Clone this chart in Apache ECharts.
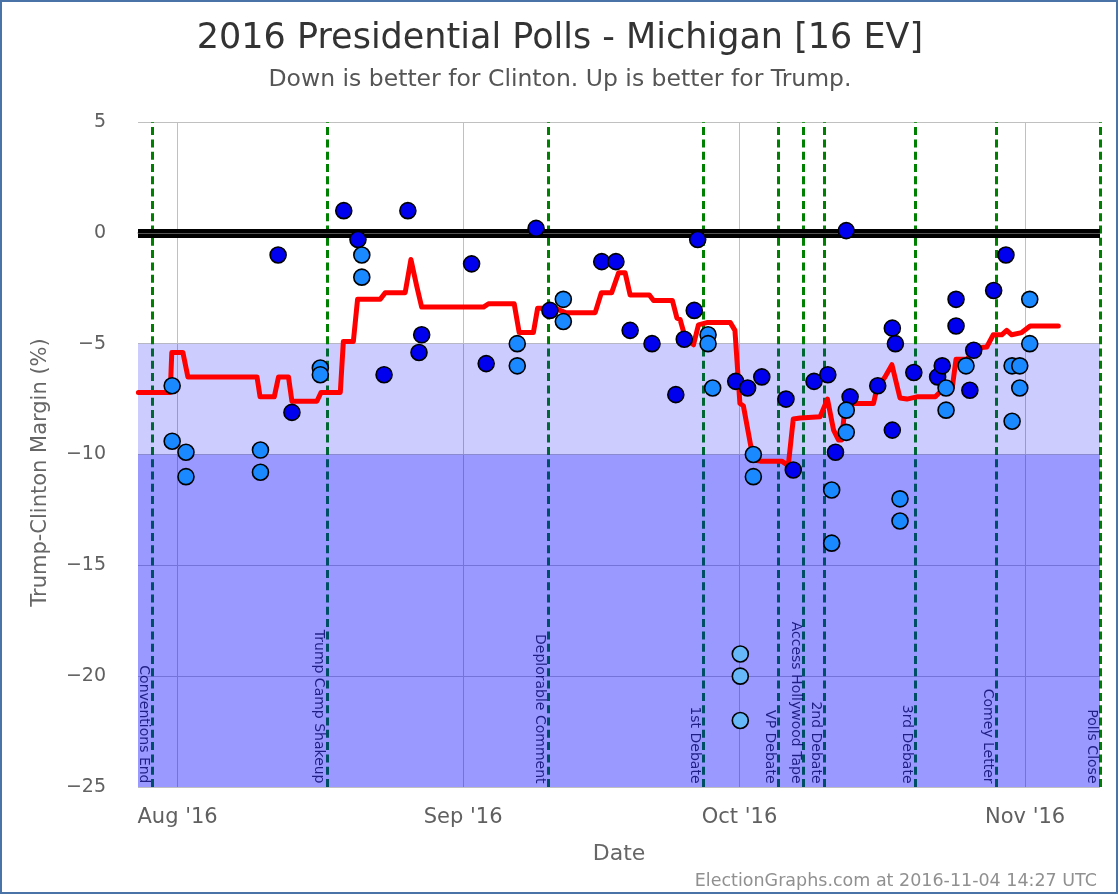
<!DOCTYPE html>
<html>
<head>
<meta charset="utf-8">
<script src="https://cdn.jsdelivr.net/npm/echarts@6/dist/echarts.min.js"></script>
<style>
  html, body { margin: 0; padding: 0; background: #fff; }
  #chart { position: absolute; left: 0; top: 0; width: 1120px; height: 896px; }
  #frame { position: absolute; left: 0; top: 0; width: 1114px; height: 890px; border: 2px solid #4a74a8; pointer-events: none; }
</style>
</head>
<body>
<div id="chart"></div>
<div id="frame"></div>
<script>
// ---------------- data ----------------
const titleText = '2016 Presidential Polls - Michigan [16 EV]';
const subtitleText = 'Down is better for Clinton. Up is better for Trump.';
const yAxisTitle = 'Trump-Clinton Margin (%)';
const xAxisTitle = 'Date';
const footerText = 'ElectionGraphs.com at 2016-11-04 14:27 UTC';

const xMin = '2016-07-27 17:00';
const xMax = '2016-11-09 03:00';
const yTicks = [-25, -20, -15, -10, -5, 0, 5];
const monthTickDates = ['2016-08-01 00:00', '2016-09-01 00:00', '2016-10-01 00:00', '2016-11-01 00:00'];
const monthTickLabels = ["Aug '16", "Sep '16", "Oct '16", "Nov '16"];

const eventNames = ['Conventions End', 'Trump Camp Shakeup', 'Deplorable Comment', '1st Debate', 'VP Debate',
  'Access Hollywood Tape', '2nd Debate', '3rd Debate', 'Comey Letter', 'Polls Close'];
const eventDates = ['2016-07-29 06:00', '2016-08-17 07:00', '2016-09-10 05:00', '2016-09-27 02:00', '2016-10-05 04:00',
  '2016-10-07 23:00', '2016-10-10 04:00', '2016-10-20 02:00', '2016-10-28 20:00', '2016-11-09 03:00'];

// polls (dark = single poll style 1, medium = style 2, light = style 3)
const darkDates = ['2016-08-11 22:00', '2016-08-13 10:00', '2016-08-19 01:00', '2016-08-20 14:00', '2016-08-23 10:00',
  '2016-08-26 00:00', '2016-08-27 12:00', '2016-08-27 05:00', '2016-09-01 22:00', '2016-09-03 12:00',
  '2016-09-08 22:00', '2016-09-10 10:00', '2016-09-16 01:00', '2016-09-17 14:00', '2016-09-19 03:00',
  '2016-09-21 12:00', '2016-09-24 02:00', '2016-09-25 00:00', '2016-09-26 02:00', '2016-09-26 11:00',
  '2016-09-30 14:00', '2016-10-01 21:00', '2016-10-03 10:00', '2016-10-06 01:00', '2016-10-06 20:00',
  '2016-10-09 02:00', '2016-10-10 14:00', '2016-10-11 10:00', '2016-10-12 14:00', '2016-10-13 00:00',
  '2016-10-16 00:00', '2016-10-17 14:00', '2016-10-17 22:00', '2016-10-17 14:00', '2016-10-19 22:00',
  '2016-10-22 12:00', '2016-10-23 00:00', '2016-10-24 12:00', '2016-10-24 12:00', '2016-10-26 00:00',
  '2016-10-26 10:00', '2016-10-28 14:00', '2016-10-29 22:00'];
const darkValues = [-1.0, -8.1, 1.0, -0.3, -6.4,
  1.0, -4.6, -5.4, -1.4, -5.9,
  0.2, -3.5, -1.3, -1.3, -4.4,
  -5.0, -7.3, -4.8, -3.5, -0.3,
  -6.7, -7.0, -6.5, -7.5, -10.7,
  -6.7, -6.4, -9.9, 0.1, -7.4,
  -6.9, -4.3, -5.0, -8.9, -6.3,
  -6.5, -6.0, -3.0, -4.2, -7.1,
  -5.3, -2.6, -1.0];

const mediumDates = ['2016-07-31 10:00', '2016-07-31 10:00', '2016-08-01 22:00', '2016-08-01 22:00', '2016-08-10 00:00',
  '2016-08-10 00:00', '2016-08-16 12:00', '2016-08-16 12:00', '2016-08-21 00:00', '2016-08-21 00:00',
  '2016-09-06 21:00', '2016-09-06 21:00', '2016-09-11 21:00', '2016-09-11 21:00', '2016-09-27 14:00',
  '2016-09-27 14:00', '2016-09-28 02:00', '2016-10-02 12:00', '2016-10-02 12:00', '2016-10-11 00:00',
  '2016-10-11 00:00', '2016-10-12 14:00', '2016-10-12 14:00', '2016-10-18 10:00', '2016-10-18 10:00',
  '2016-10-23 10:00', '2016-10-23 10:00', '2016-10-25 14:00', '2016-10-30 14:00', '2016-10-30 14:00',
  '2016-10-31 10:00', '2016-10-31 10:00', '2016-11-01 12:00', '2016-11-01 12:00'];
const mediumValues = [-6.9, -9.4, -9.9, -11.0, -9.8,
  -10.8, -6.1, -6.4, -1.0, -2.0,
  -5.0, -6.0, -3.0, -4.0, -4.6,
  -5.0, -7.0, -10.0, -11.0, -11.6,
  -14.0, -8.0, -9.0, -12.0, -13.0,
  -7.0, -8.0, -6.0, -6.0, -8.5,
  -6.0, -7.0, -3.0, -5.0];

const lightDates = ['2016-10-01 02:00', '2016-10-01 02:00', '2016-10-01 02:00'];
const lightValues = [-19.0, -20.0, -22.0];

// running average line
const avgDates = ['2016-07-27 18:00', '2016-07-31 05:00', '2016-07-31 09:00', '2016-08-01 14:00', '2016-08-02 03:00',
  '2016-08-09 15:00', '2016-08-09 23:00', '2016-08-11 12:00', '2016-08-11 23:00', '2016-08-13 01:00',
  '2016-08-13 10:00', '2016-08-16 03:00', '2016-08-16 14:00', '2016-08-18 16:00', '2016-08-19 00:00',
  '2016-08-20 02:00', '2016-08-20 13:00', '2016-08-23 00:00', '2016-08-23 13:00', '2016-08-25 17:00',
  '2016-08-26 08:00', '2016-08-26 23:00', '2016-08-27 12:00', '2016-09-03 05:00', '2016-09-03 18:00',
  '2016-09-06 13:00', '2016-09-07 02:00', '2016-09-08 15:00', '2016-09-09 02:00', '2016-09-11 00:00',
  '2016-09-12 02:00', '2016-09-15 08:00', '2016-09-16 00:00', '2016-09-17 03:00', '2016-09-17 21:00',
  '2016-09-18 14:00', '2016-09-19 03:00', '2016-09-21 05:00', '2016-09-21 16:00', '2016-09-23 17:00',
  '2016-09-24 05:00', '2016-09-24 13:00', '2016-09-25 02:00', '2016-09-26 00:00', '2016-09-26 13:00',
  '2016-09-27 11:00', '2016-09-30 00:00', '2016-09-30 12:00', '2016-10-01 01:00', '2016-10-01 10:00',
  '2016-10-02 12:00', '2016-10-03 06:00', '2016-10-05 14:00', '2016-10-06 07:00', '2016-10-06 20:00',
  '2016-10-07 14:00', '2016-10-09 18:00', '2016-10-10 13:00', '2016-10-11 05:00', '2016-10-11 18:00',
  '2016-10-12 02:00', '2016-10-12 11:00', '2016-10-13 09:00', '2016-10-15 13:00', '2016-10-15 22:00',
  '2016-10-16 19:00', '2016-10-17 13:00', '2016-10-18 10:00', '2016-10-19 04:00', '2016-10-20 06:00',
  '2016-10-22 06:00', '2016-10-22 23:00', '2016-10-24 02:00', '2016-10-24 12:00', '2016-10-25 16:00',
  '2016-10-26 18:00', '2016-10-27 20:00', '2016-10-28 13:00', '2016-10-29 11:00', '2016-10-30 00:00',
  '2016-10-30 13:00', '2016-10-31 15:00', '2016-11-01 13:00', '2016-11-04 14:27'];
const avgValues = [-7.2, -7.2, -5.4, -5.4, -6.5,
  -6.5, -7.4, -7.4, -6.5, -6.5,
  -7.6, -7.6, -7.2, -7.2, -4.9,
  -4.9, -3.0, -3.0, -2.7, -2.7,
  -1.2, -2.4, -3.35, -3.35, -3.2,
  -3.2, -4.5, -4.5, -3.4, -3.4,
  -3.6, -3.6, -2.7, -2.7, -1.8,
  -1.8, -2.8, -2.8, -3.05, -3.05,
  -3.85, -3.9, -4.7, -5.05, -4.15,
  -4.05, -4.05, -4.4, -7.7, -7.8,
  -10.25, -10.3, -10.3, -10.5, -8.4,
  -8.35, -8.3, -7.5, -8.9, -9.35,
  -9.35, -7.8, -7.7, -7.7, -7.0,
  -6.5, -5.95, -7.45, -7.5, -7.4,
  -7.4, -7.1, -7.0, -5.7, -5.7,
  -5.2, -5.15, -4.6, -4.6, -4.4,
  -4.6, -4.5, -4.2, -4.2];

// ---------------- helpers ----------------
function t(s) { return new Date(s.replace(' ', 'T')).getTime(); }
function pairs(ds, vs) { return ds.map((d, i) => [t(d), vs[i]]); }

const FONT = 'DejaVu Sans';
const monthTicks = monthTickDates.map(t);

const chart = echarts.init(document.getElementById('chart'), null, { renderer: 'canvas' });

const pointStyle = (c) => ({ color: c, borderColor: '#000', borderWidth: 1.6, opacity: 1 });

chart.setOption({
  animation: false,
  backgroundColor: '#ffffff',
  title: [{
    text: titleText,
    subtext: subtitleText,
    left: 'center',
    top: 16,
    itemGap: 12,
    textStyle: { fontFamily: FONT, fontSize: 35, fontWeight: 'normal', color: '#333333' },
    subtextStyle: { fontFamily: FONT, fontSize: 23.5, color: '#555555' }
  }, {
    text: footerText,
    right: 18,
    top: 867,
    textStyle: { fontFamily: FONT, fontSize: 17.5, fontWeight: 'normal', color: '#909090' }
  }],
  grid: { left: 138, right: 20, top: 122, bottom: 109, containLabel: false },
  xAxis: {
    type: 'value',
    min: t(xMin),
    max: t(xMax),
    name: xAxisTitle,
    nameLocation: 'middle',
    nameGap: 56,
    nameTextStyle: { fontFamily: FONT, fontSize: 22, color: '#666666' },
    axisLine: { show: true, lineStyle: { color: '#c0d0e0', width: 2 } },
    axisTick: { show: false },
    splitLine: { show: false },
    axisLabel: {
      customValues: monthTicks,
      margin: 20,
      fontFamily: FONT, fontSize: 21, color: '#606060',
      formatter: (v) => {
        const i = monthTicks.indexOf(v);
        return i >= 0 ? monthTickLabels[i] : '';
      }
    }
  },
  yAxis: {
    type: 'value',
    min: yTicks[0],
    max: yTicks[yTicks.length - 1],
    interval: 5,
    name: yAxisTitle,
    nameLocation: 'middle',
    nameGap: 87,
    nameTextStyle: { fontFamily: FONT, fontSize: 21, color: '#666666', padding: [0, 36, 0, 0] },
    axisLine: { show: false },
    axisTick: { show: false },
    axisLabel: {
      margin: 32, fontFamily: FONT, fontSize: 19, color: '#606060',
      formatter: (v) => (v < 0 ? '\u2212' + Math.abs(v) : String(v))
    },
    splitLine: { show: true, lineStyle: { color: '#c0c0c0', width: 1 } }
  },
  series: [
    // vertical month gridlines
    {
      type: 'line', data: [], z: 1, silent: true,
      markLine: {
        z: 1, silent: true, symbol: 'none', animation: false,
        label: { show: false },
        lineStyle: { color: '#c0c0c0', width: 1, type: 'solid' },
        data: monthTicks.map(v => ({ xAxis: v }))
      }
    },
    // event lines + labels
    {
      type: 'scatter', z: 2, silent: true,
      symbolSize: 1,
      itemStyle: { color: 'transparent' },
      data: eventDates.map((d, i) => ({ value: [t(d), yTicks[0]], name: eventNames[i] })),
      label: {
        show: true,
        formatter: (p) => p.name,
        rotate: -90,
        position: [-1, -3],
        align: 'right',
        verticalAlign: 'top',
        fontFamily: FONT, fontSize: 14, color: '#000000'
      },
      markLine: {
        z: 2, silent: true, symbol: 'none', animation: false,
        label: { show: false },
        lineStyle: { color: '#008000', width: 3, type: [8, 4.3] },
        data: eventDates.map(d => ({ xAxis: t(d) }))
      }
    },
    // shaded bands
    {
      type: 'line', data: [], z: 3, silent: true,
      markArea: {
        z: 3, silent: true,
        data: [
          [{ yAxis: -10, itemStyle: { color: 'rgba(0,0,255,0.2)' } }, { yAxis: -5 }],
          [{ yAxis: -25, itemStyle: { color: 'rgba(0,0,255,0.4)' } }, { yAxis: -10 }]
        ]
      }
    },
    // zero line
    {
      type: 'line', data: [], z: 4, silent: true,
      markLine: {
        z: 4, silent: true, symbol: 'none', animation: false,
        label: { show: false },
        lineStyle: { color: '#000000', width: 9, type: 'solid' },
        data: [{ yAxis: 0 }]
      }
    },
    {
      type: 'line', data: [], z: 4, silent: true,
      markLine: {
        z: 4, silent: true, symbol: 'none', animation: false,
        label: { show: false },
        lineStyle: { color: '#555555', width: 1, type: 'solid' },
        data: [{ yAxis: 0 }]
      }
    },
    // average line
    {
      name: 'Average', type: 'line', z: 5,
      data: pairs(avgDates, avgValues),
      showSymbol: false, symbol: 'none',
      lineStyle: { color: '#ff0000', width: 5, join: 'round', cap: 'round' },
      silent: true
    },
    // polls
    {
      name: 'Polls A', type: 'scatter', z: 6,
      data: pairs(darkDates, darkValues),
      symbolSize: 16, itemStyle: pointStyle('#0000ee')
    },
    {
      name: 'Polls B', type: 'scatter', z: 6,
      data: pairs(mediumDates, mediumValues),
      symbolSize: 16, itemStyle: pointStyle('#1a88ff')
    },
    {
      name: 'Polls C', type: 'scatter', z: 6,
      data: pairs(lightDates, lightValues),
      symbolSize: 16, itemStyle: pointStyle('#66b8f8')
    }
  ]
});
</script>
</body>
</html>
